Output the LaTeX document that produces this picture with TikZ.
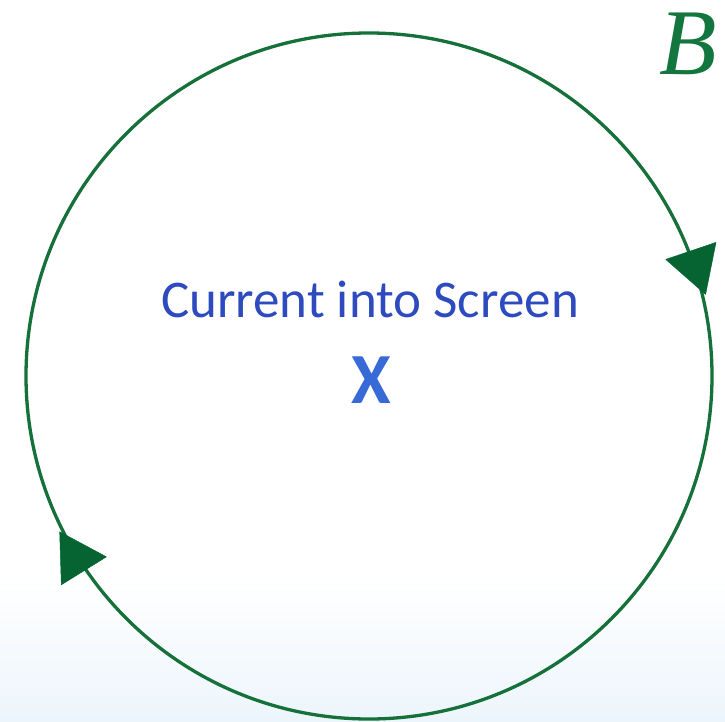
\documentclass[tikz,border=0pt]{standalone}
\usepackage{fontspec}
\setmainfont{Carlito}
\newfontfamily\serifB{Liberation Serif}
\usetikzlibrary{calc}
\definecolor{lineg}{RGB}{22,112,58}
\definecolor{arrg}{RGB}{5,100,50}
\definecolor{txtblue}{RGB}{45,75,190}
\definecolor{xblue}{RGB}{55,105,215}
\definecolor{bgblue}{RGB}{236,245,252}
\definecolor{bgreen}{RGB}{18,118,62}
\tikzset{
  fieldline/.style={draw=lineg, line width=3.3pt},
  arrowhead/.style={fill=arrg, draw=arrg, line width=0.5pt, line join=round},
  label/.style={inner sep=0pt, anchor=base}
}
\begin{document}
\begin{tikzpicture}[x=1pt,y=-1pt]
\useasboundingbox (0,0) rectangle (725,722);
\fill[white] (0,0) rectangle (725,580);
\shade[top color=white, bottom color=bgblue] (0,580) rectangle (725,722);
\coordinate (c) at (369,376);
\draw[fieldline] (c) circle [radius=343];
% arrowheads: equilateral triangles pointing along the clockwise tangent
\foreach \a/\n in {18.7/ra, 211.8/la}{
  \coordinate (\n) at ($(c)+({345*cos(\a)},{-345*sin(\a)})$);
  \fill[arrowhead]
    ($(\n)+({30.6*cos(\a-90)},{-30.6*sin(\a-90)})$) --
    ($(\n)+({30.6*cos(\a+30)},{-30.6*sin(\a+30)})$) --
    ($(\n)+({30.6*cos(\a-210)},{-30.6*sin(\a-210)})$) -- cycle;
}
\node[label, text=txtblue, font=\fontsize{53}{60}\selectfont] (cur) at (370,317) {Current into Screen};
\node[text=xblue, inner sep=0pt, font=\bfseries\fontsize{72}{80}\selectfont] (x) at (371,380) {X};
\node[label, text=bgreen, font=\serifB\itshape\fontsize{94}{100}\selectfont] (B) at (688,75) {B};
\end{tikzpicture}
\end{document}
